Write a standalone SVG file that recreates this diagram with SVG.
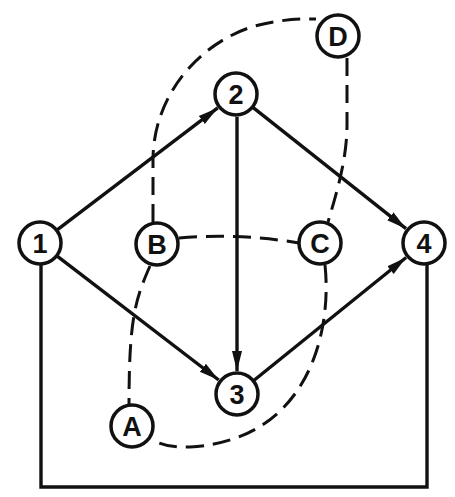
<svg xmlns="http://www.w3.org/2000/svg" width="455" height="497" viewBox="0 0 455 497">
<defs>
<style>
.node circle{fill:#fff;stroke:#111;stroke-width:3.5}
.node text{font-family:"Liberation Sans","DejaVu Sans",sans-serif;font-weight:bold;font-size:27px;fill:#111;text-anchor:middle;dominant-baseline:central}
.edge{fill:none;stroke:#111;stroke-width:3.4}
.dash{fill:none;stroke:#111;stroke-width:3;stroke-dasharray:18 9}
</style>
<marker id="arr" markerUnits="userSpaceOnUse" markerWidth="22" markerHeight="12" refX="20" refY="6" orient="auto">
<path d="M0,1 L20,6 L0,11 z" fill="#111"/>
</marker>
</defs>
<rect width="455" height="497" fill="#fff"/>
<g id="connectors">
<path class="edge" d="M57.5,229.7 L217.7,107.9" marker-end="url(#arr)"/>
<path class="edge" d="M253.2,107.6 L406,228.7" marker-end="url(#arr)"/>
<path class="edge" d="M57.5,256.4 L218.7,380" marker-end="url(#arr)"/>
<path class="edge" d="M254.1,380.2 L406.1,257.5" marker-end="url(#arr)"/>
<path class="edge" d="M237,117 L237,371" marker-end="url(#arr)"/>
<path class="edge" d="M41,265 L41,487 L427,487 L427,265"/>
<path class="dash" d="M153,222 L153,160 C153,95 200,42 255,26 Q285,18 316,19"/>
<path class="dash" d="M347,58 L347,125 C347,160 336,195 328,222"/>
<path class="dash" d="M179,238 Q240,233 299,243"/>
<path class="dash" d="M150,266 C135,300 129,320 129,405"/>
<path class="dash" d="M325,265 C332,330 310,440 190,447 Q166,448 153,440"/>
</g>
<g id="node-1" class="node"><circle cx="40" cy="243" r="21"/><text x="40" y="244">1</text></g>
<g id="node-2" class="node"><circle cx="236" cy="94" r="21"/><text x="236" y="95">2</text></g>
<g id="node-3" class="node"><circle cx="237" cy="394" r="21"/><text x="237" y="395">3</text></g>
<g id="node-4" class="node"><circle cx="424" cy="243" r="21"/><text x="424" y="244">4</text></g>
<g id="node-A" class="node"><circle cx="132" cy="426" r="21"/><text x="132" y="427">A</text></g>
<g id="node-B" class="node"><circle cx="157" cy="244" r="21"/><text x="157" y="245">B</text></g>
<g id="node-C" class="node"><circle cx="320" cy="243" r="21"/><text x="320" y="244">C</text></g>
<g id="node-D" class="node"><circle cx="338" cy="36" r="21"/><text x="338" y="37">D</text></g>
</svg>
